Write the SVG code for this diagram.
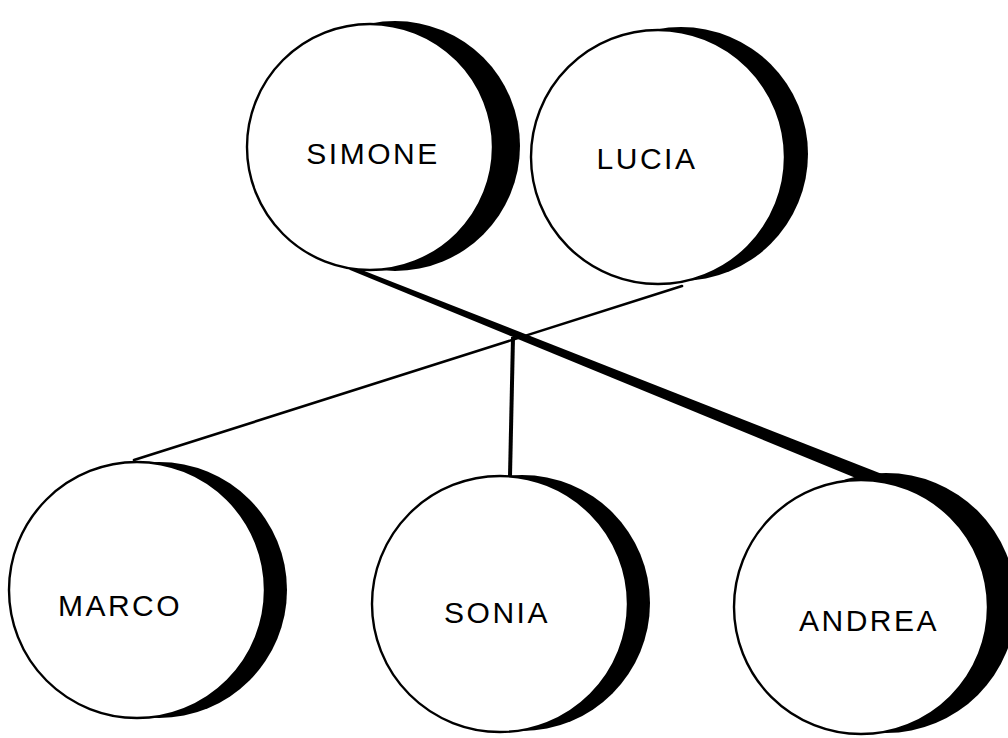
<svg xmlns="http://www.w3.org/2000/svg" width="1008" height="738" viewBox="0 0 1008 738">
<style>
.shadow{fill:#000;stroke:none}
.disc{fill:#fff;stroke:#000;stroke-width:2.4}
.lbl{font-family:"Liberation Sans",Arial,sans-serif;font-size:30px;letter-spacing:2.5px;fill:#000;text-anchor:middle}
.thin{stroke:#000;stroke-width:2.6;fill:none;stroke-linecap:round}
.mid{stroke:#000;stroke-width:4;fill:none}
</style>
<rect width="1008" height="738" fill="#fff"/>
<g id="connectors">
<polygon points="344,263 882,474 868,483 350,270" fill="#000"/>
<line class="thin" x1="682" y1="286" x2="134" y2="460"/>
<line class="mid" x1="513" y1="337" x2="510" y2="476"/>
</g>
<g id="simone">
<circle class="shadow" cx="395" cy="146" r="125"/>
<circle class="disc" cx="370" cy="147" r="123"/>
<text class="lbl" x="373" y="164">SIMONE</text>
</g>
<g id="lucia">
<circle class="shadow" cx="681" cy="154" r="127"/>
<circle class="disc" cx="658" cy="157" r="127"/>
<text class="lbl" x="647" y="169">LUCIA</text>
</g>
<g id="marco">
<circle class="shadow" cx="159" cy="590" r="128"/>
<circle class="disc" cx="137" cy="590" r="128"/>
<text class="lbl" x="120" y="616">MARCO</text>
</g>
<g id="sonia">
<circle class="shadow" cx="522" cy="603" r="128"/>
<circle class="disc" cx="500" cy="604" r="128"/>
<text class="lbl" x="497" y="623">SONIA</text>
</g>
<g id="andrea">
<circle class="shadow" cx="886" cy="603" r="130"/>
<circle class="disc" cx="861" cy="607" r="127"/>
<text class="lbl" x="869" y="631">ANDREA</text>
</g>
</svg>
